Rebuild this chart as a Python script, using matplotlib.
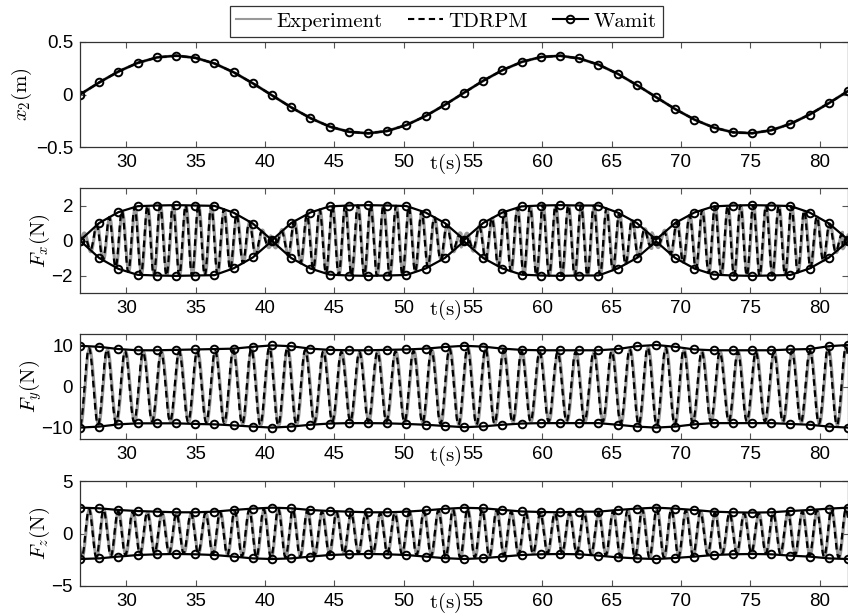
import numpy as np
import matplotlib.pyplot as plt
from matplotlib.lines import Line2D

plt.rcParams['mathtext.fontset'] = 'cm'
plt.rcParams['font.family'] = ['Liberation Sans', 'DejaVu Sans']

# ============================== DATA =================================
# Wamit sample instants (s)
t_wamit = 26.65 + 1.385 * np.arange(41)

# sway motion x2 (m) at the Wamit samples
x2_wamit = [0.000, 0.115, 0.219, 0.301, 0.353, 0.370, 0.350, 0.296, 0.212, 0.107,
            -0.008, -0.123, -0.225, -0.306, -0.355, -0.370, -0.348, -0.291, -0.205, -0.099,
            0.017, 0.131, 0.232, 0.310, 0.357, 0.369, 0.344, 0.285, 0.198, 0.091,
            -0.025, -0.139, -0.239, -0.315, -0.360, -0.369, -0.341, -0.280, -0.191, -0.083,
            0.033]

# amplitude envelopes of the forces (N)
fx_env = [0.00, 1.00, 1.62, 1.96, 2.00, 2.02, 2.00, 1.98, 1.59, 0.97,
          0.02, 1.00, 1.60, 1.95, 2.00, 2.02, 2.00, 1.97, 1.60, 1.00,
          0.05, 1.00, 1.60, 1.95, 2.00, 2.02, 2.00, 2.00, 1.60, 1.00,
          0.05, 1.00, 1.60, 1.95, 2.00, 2.02, 2.00, 1.97, 1.60, 0.98,
          0.05]
fy_upper = [10.0, 9.75, 9.2, 8.9, 8.9, 9.0, 9.1, 9.2, 9.3, 9.75,
            10.1, 9.9, 9.3, 9.0, 8.9, 8.9, 9.0, 9.1, 9.3, 9.7,
            10.0, 9.8, 9.3, 9.0, 8.9, 8.9, 8.9, 8.9, 9.2, 9.9,
            10.2, 9.75, 9.1, 8.9, 8.9, 8.9, 8.9, 9.1, 9.2, 9.9,
            10.2]
fy_lower = [-10.1, -9.85, -9.3, -9.05, -9.05, -9.05, -9.2, -9.3, -9.55, -9.85,
            -10.1, -9.85, -9.4, -9.1, -9.0, -9.0, -9.05, -9.2, -9.4, -9.7,
            -10.0, -9.8, -9.4, -9.1, -9.0, -9.0, -9.0, -9.0, -9.4, -9.85,
            -10.1, -9.85, -9.3, -9.0, -9.0, -9.0, -9.0, -9.2, -9.4, -9.85,
            -10.1]
fz_upper = [2.46, 2.40, 2.24, 2.14, 2.08, 2.02, 2.02, 2.08, 2.24, 2.37,
            2.46, 2.40, 2.24, 2.14, 2.08, 2.02, 2.02, 2.08, 2.20, 2.35,
            2.45, 2.40, 2.25, 2.10, 2.05, 2.02, 2.08, 2.08, 2.24, 2.37,
            2.46, 2.37, 2.24, 2.08, 2.02, 1.99, 2.02, 2.14, 2.24, 2.37,
            2.46]
fz_lower = [-2.43, -2.37, -2.20, -2.05, -1.98, -1.95, -1.98, -2.05, -2.20, -2.37,
            -2.43, -2.37, -2.20, -2.05, -1.98, -1.95, -1.98, -2.05, -2.20, -2.35,
            -2.43, -2.35, -2.20, -2.05, -1.98, -1.95, -1.98, -2.11, -2.27, -2.37,
            -2.43, -2.33, -2.20, -2.05, -1.98, -1.95, -1.98, -2.11, -2.20, -2.37,
            -2.43]

# oscillation periods of the force records (s)
period_fx = 0.92
period_fy = 1.30
period_fz = 1.05
# residual amplitude of measured Fx around the envelope nodes (N)
fx_residual = 0.4

xticks = [30, 35, 40, 45, 50, 55, 60, 65, 70, 75, 80]

# ============================== SIGNALS =================================
t = np.linspace(t_wamit[0], t_wamit[-1], 8000)
x2 = np.interp(t, t_wamit, x2_wamit)

amp_x = np.interp(t, t_wamit, fx_env)
sgn = np.sign(x2)
fx_tdrpm = sgn * amp_x * np.sin(2 * np.pi * t / period_fx)
fx_exp = sgn * np.sqrt(amp_x**2 + fx_residual**2) * 0.95 * np.sin(2 * np.pi * t / period_fx - 0.25)

def banded(up, lo, period, shift):
    u = np.interp(t, t_wamit, up)
    l = np.interp(t, t_wamit, lo)
    mid, half = (u + l) / 2, (u - l) / 2
    return mid + 0.95 * half * np.cos(2 * np.pi * t / period + shift)

fy_tdrpm = banded(fy_upper, fy_lower, period_fy, 0.0)
fy_exp = banded(fy_upper, fy_lower, period_fy, -0.2)
fz_tdrpm = banded(fz_upper, fz_lower, period_fz, 0.0)
fz_exp = banded(fz_upper, fz_lower, period_fz, -0.2)

# ============================== PLOT =================================
fig = plt.figure(figsize=(8.48, 6.15), dpi=100)

left, width = 80 / 848, 768 / 848
tops = [42, 188, 334, 481]
axes = [fig.add_axes([left, 1 - (top + 105) / 615, width, 105 / 615]) for top in tops]

exp_kw = dict(color='0.6', lw=2.2)
tdr_kw = dict(color='k', lw=1.6, ls=(0, (3, 2)))
wam_kw = dict(color='k', lw=1.6, marker='o', ms=5.5, mfc='none', mew=1.4)

ax = axes[0]
ax.plot(t, x2, **exp_kw)
ax.plot(t, x2, **tdr_kw)
ax.plot(t_wamit, x2_wamit, **wam_kw)

ax = axes[1]
ax.plot(t, fx_exp, **exp_kw)
ax.plot(t, fx_tdrpm, **tdr_kw)
ax.plot(t_wamit, fx_env, **wam_kw)
ax.plot(t_wamit, -np.array(fx_env), **wam_kw)

ax = axes[2]
ax.plot(t, fy_exp, **exp_kw)
ax.plot(t, fy_tdrpm, **tdr_kw)
ax.plot(t_wamit, fy_upper, **wam_kw)
ax.plot(t_wamit, fy_lower, **wam_kw)

ax = axes[3]
ax.plot(t, fz_exp, **exp_kw)
ax.plot(t, fz_tdrpm, **tdr_kw)
ax.plot(t_wamit, fz_upper, **wam_kw)
ax.plot(t_wamit, fz_lower, **wam_kw)

ylims = [(-0.5, 0.5), (-3, 3), (-12.9, 12.9), (-5, 5)]
yticks = [[-0.5, 0, 0.5], [-2, 0, 2], [-10, 0, 10], [-5, 0, 5]]
yticklabels = [['\u22120.5', '0', '0.5'], ['\u22122', '0', '2'],
               ['\u221210', '0', '10'], ['\u22125', '0', '5']]
ylabels = [r'$x_2(\mathrm{m})$', r'$F_x(\mathrm{N})$', r'$F_y(\mathrm{N})$', r'$F_z(\mathrm{N})$']
ylabel_x = [-0.060, -0.037, -0.047, -0.037]

for i, ax in enumerate(axes):
    ax.set_xlim(t_wamit[0], t_wamit[-1])
    ax.set_ylim(*ylims[i])
    ax.set_xticks(xticks)
    ax.set_yticks(yticks[i])
    ax.set_yticklabels(yticklabels[i])
    ax.tick_params(direction='in', top=True, right=True, length=4, width=0.8,
                   color='#555555', labelsize=13.5, pad=5)
    for s in ax.spines.values():
        s.set_color('#333333')
        s.set_linewidth(0.9)
    ax.set_ylabel(ylabels[i], fontsize=15)
    ax.yaxis.set_label_coords(ylabel_x[i], 0.5)
    # the time label sits in the tick-label row, between 50 and 55
    ax.set_xlabel(r'$\mathrm{t(s)}$', fontsize=15, va='top')
    ax.xaxis.set_label_coords(0.476, -0.05)

handles = [Line2D([], [], **exp_kw), Line2D([], [], **tdr_kw), Line2D([], [], **wam_kw)]
labels = ['Experiment', 'TDRPM', 'Wamit']
leg = fig.legend(handles, labels, loc='center', bbox_to_anchor=(446 / 848, 1 - 21.5 / 615),
                 ncol=3, frameon=True, fancybox=False, framealpha=1, edgecolor='#333333',
                 prop={'family': 'cmr10', 'size': 15}, handlelength=1.7,
                 columnspacing=1.2, handletextpad=0.25, borderpad=0.3)
leg.get_frame().set_linewidth(0.9)
for h in leg.legend_handles:
    h.set_linewidth(1.5)

fig.savefig('out.png', dpi=100)
